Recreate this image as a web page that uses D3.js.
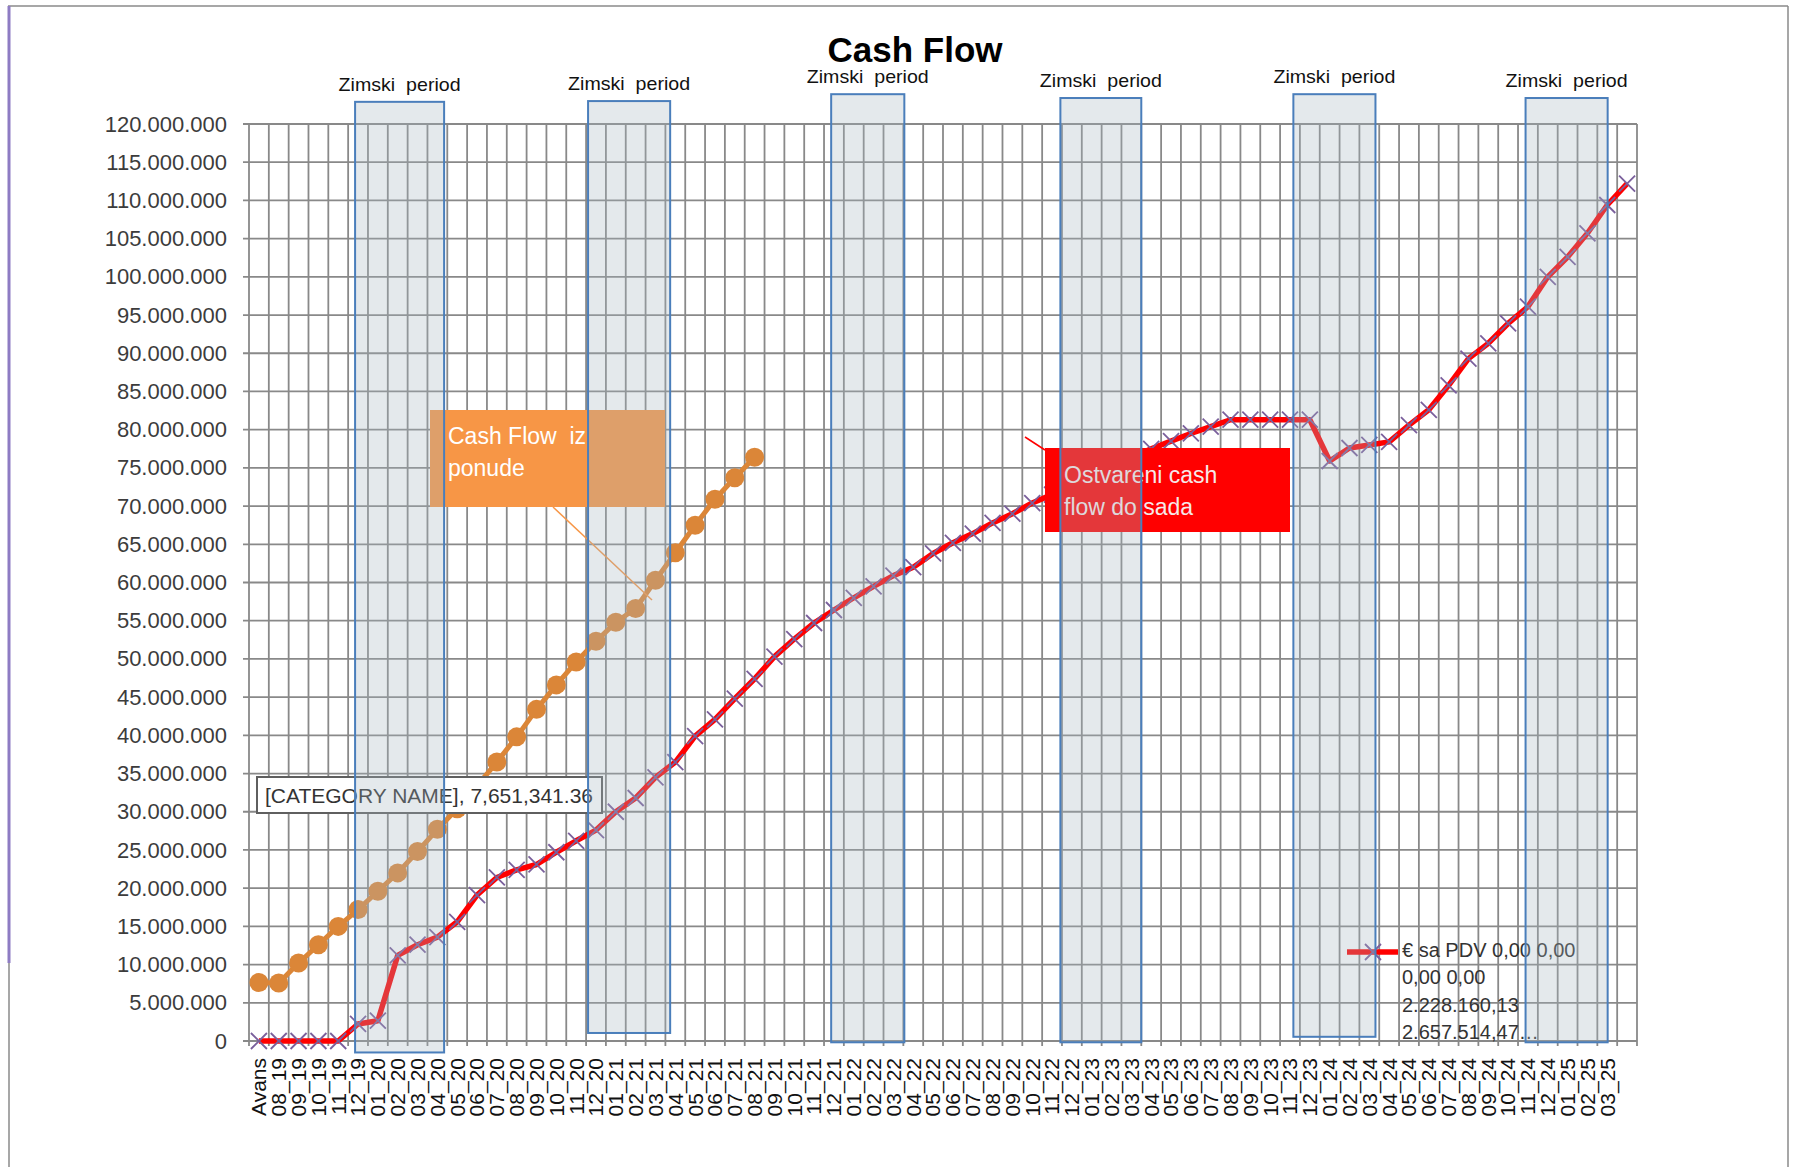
<!DOCTYPE html>
<html>
<head>
<meta charset="utf-8">
<script src="https://cdn.jsdelivr.net/npm/d3@7/dist/d3.min.js"></script>
<style>
  body { margin: 0; background: #fff; }
  svg { display: block; }
  text { font-family: 'Liberation Sans', Arial, sans-serif; }
</style>
</head>
<body>
<div id="chart"></div>
<script>
// Categories (last slot has no label but still carries a red point)
const categories = [
  'Avans', '08_19', '09_19', '10_19', '11_19', '12_19',
  '01_20', '02_20', '03_20', '04_20', '05_20', '06_20', '07_20', '08_20', '09_20', '10_20', '11_20', '12_20',
  '01_21', '02_21', '03_21', '04_21', '05_21', '06_21', '07_21', '08_21', '09_21', '10_21', '11_21', '12_21',
  '01_22', '02_22', '03_22', '04_22', '05_22', '06_22', '07_22', '08_22', '09_22', '10_22', '11_22', '12_22',
  '01_23', '02_23', '03_23', '04_23', '05_23', '06_23', '07_23', '08_23', '09_23', '10_23', '11_23', '12_23',
  '01_24', '02_24', '03_24', '04_24', '05_24', '06_24', '07_24', '08_24', '09_24', '10_24', '11_24', '12_24',
  '01_25', '02_25', '03_25', ''
];

// Cash Flow iz ponude (offer), EUR
const offerValues = [
  7651341.36, 7600000, 10200000, 12600000, 15000000, 17200000, 19600000, 22000000, 24800000, 27700000,
  30400000, 33400000, 36500000, 39800000, 43400000, 46600000, 49600000, 52300000, 54800000, 56600000,
  60300000, 63900000, 67500000, 70900000, 73700000, 76400000
];

// € sa PDV (realised cash flow), EUR
const actualValues = [
  0, 0, 0, 0, 0, 2228160.13, 2657514.47, 11200000, 12600000, 13600000,
  15600000, 19100000, 21400000, 22400000, 23100000, 24700000, 26200000, 27600000, 30000000, 31800000,
  34500000, 36500000, 39900000, 42100000, 44800000, 47400000, 50300000, 52600000, 54700000, 56400000,
  58000000, 59500000, 60900000, 62000000, 63800000, 65200000, 66400000, 67800000, 69000000, 70400000,
  71500000, 72600000, 73800000, 75100000, 76300000, 77500000, 78500000, 79500000, 80400000, 81300000,
  81300000, 81300000, 81300000, 81300000, 75900000, 77600000, 78000000, 78400000, 80600000, 82600000,
  85800000, 89300000, 91300000, 93900000, 96100000, 100000000, 102600000, 105700000, 109400000, 112200000
];

const yTicks = [
  0, 5000000, 10000000, 15000000, 20000000, 25000000, 30000000, 35000000, 40000000,
  45000000, 50000000, 55000000, 60000000, 65000000, 70000000, 75000000, 80000000,
  85000000, 90000000, 95000000, 100000000, 105000000, 110000000, 115000000, 120000000
];

// Winter periods, in category-index units (x) and EUR (y)
const winterFrom = [5.35, 17.1, 29.36, 40.92, 52.67, 64.38];
const winterTo = [9.84, 21.24, 33.05, 45.0, 56.81, 68.52];
const winterTop = [122900000, 123000000, 123900000, 123400000, 123900000, 123400000];
const winterBottom = [-1500000, 1050000, -170000, -170000, 550000, -170000];
const winterLabel = 'Zimski  period';

const legendLines = ['€ sa PDV 0,00 0,00', '0,00 0,00', '2.228.160,13', '2.657.514,47…'];

const W = 1794, H = 1167;
const plot = { left: 249, right: 1637, top: 124, bottom: 1041 };

const locale = d3.formatLocale({ decimal: ',', thousands: '.', grouping: [3], currency: ['', '€'] });
const fmt = locale.format(',d');

const svg = d3.select('#chart')
  .append('svg')
  .attr('width', W)
  .attr('height', H);

// Frame of the embedded page
svg.append('line').attr('x1', 8).attr('x2', 1788).attr('y1', 6).attr('y2', 6)
  .attr('stroke', '#8a8a8a').attr('stroke-width', 1.5);
svg.append('line').attr('x1', 1788).attr('x2', 1788).attr('y1', 6).attr('y2', H)
  .attr('stroke', '#8a8a8a').attr('stroke-width', 1.5);
svg.append('line').attr('x1', 9).attr('x2', 9).attr('y1', 6).attr('y2', 963)
  .attr('stroke', '#8e7cc3').attr('stroke-width', 3);
svg.append('line').attr('x1', 9).attr('x2', 9).attr('y1', 963).attr('y2', H)
  .attr('stroke', '#8a8a8a').attr('stroke-width', 1.5);

// Scales
const x = d3.scaleBand()
  .domain(categories)
  .range([plot.left, plot.right])
  .padding(0);

const xIndex = d3.scaleLinear()
  .domain([0, categories.length])
  .range([plot.left, plot.right]);

const y = d3.scaleLinear()
  .domain([0, 120000000])
  .range([plot.bottom, plot.top]);

const cx = function (i) { return x(categories[i]) + x.bandwidth() / 2; };

// Grid
const grid = svg.append('g').attr('stroke', '#898989').attr('stroke-width', 1.8);
grid.selectAll('line.h')
  .data(yTicks)
  .enter()
  .append('line')
  .attr('class', 'h')
  .attr('x1', plot.left - 6)
  .attr('x2', plot.right)
  .attr('y1', function (d) { return y(d); })
  .attr('y2', function (d) { return y(d); });

grid.selectAll('line.v')
  .data(d3.range(categories.length + 1))
  .enter()
  .append('line')
  .attr('class', 'v')
  .attr('x1', function (d) { return xIndex(d); })
  .attr('x2', function (d) { return xIndex(d); })
  .attr('y1', plot.top)
  .attr('y2', plot.bottom + 5);

// Y axis labels
const axisY = d3.axisLeft(y)
  .tickValues(yTicks)
  .tickFormat(function (d) { return fmt(d); })
  .tickSize(0)
  .tickPadding(22);

const gy = svg.append('g')
  .attr('transform', 'translate(' + plot.left + ',0)')
  .call(axisY);
gy.select('.domain').remove();
gy.selectAll('text')
  .attr('font-size', '22px')
  .attr('font-family', "'Liberation Sans', Arial, sans-serif")
  .attr('fill', '#3c3c3c');

// X axis labels
svg.append('g')
  .selectAll('text')
  .data(categories.filter(function (c) { return c !== ''; }))
  .enter()
  .append('text')
  .attr('transform', function (d) {
    return 'translate(' + (x(d) + x.bandwidth() / 2) + ',' + 1058 + ') rotate(-90)';
  })
  .attr('dy', '0.35em')
  .attr('text-anchor', 'end')
  .attr('font-size', '21px')
  .attr('fill', '#111')
  .text(function (d) { return d; });

// Offer line
const line = d3.line()
  .x(function (d, i) { return cx(i); })
  .y(function (d) { return y(d); });

svg.append('path')
  .datum(offerValues)
  .attr('d', line)
  .attr('fill', 'none')
  .attr('stroke', '#db8638')
  .attr('stroke-width', 5)
  .attr('stroke-linejoin', 'round');

svg.append('g')
  .selectAll('circle')
  .data(offerValues)
  .enter()
  .append('circle')
  .attr('cx', function (d, i) { return cx(i); })
  .attr('cy', function (d) { return y(d); })
  .attr('r', 9.5)
  .attr('fill', '#db8638');

// Actual line
svg.append('path')
  .datum(actualValues)
  .attr('d', line)
  .attr('fill', 'none')
  .attr('stroke', '#ff0000')
  .attr('stroke-width', 5.5)
  .attr('stroke-linejoin', 'round');

svg.append('g')
  .selectAll('path')
  .data(actualValues)
  .enter()
  .append('path')
  .attr('transform', function (d, i) { return 'translate(' + cx(i) + ',' + y(d) + ')'; })
  .attr('d', 'M-8,-8L8,8M-8,8L8,-8')
  .attr('stroke', '#7a5f9c')
  .attr('stroke-width', 1.8)
  .attr('fill', 'none');

// Legend
const legend = svg.append('g');
legend.append('line')
  .attr('x1', 1347).attr('x2', 1398).attr('y1', 952).attr('y2', 952)
  .attr('stroke', '#ff0000').attr('stroke-width', 5.5);
legend.append('path')
  .attr('transform', 'translate(1373,952)')
  .attr('d', 'M-8,-8L8,8M-8,8L8,-8')
  .attr('stroke', '#7a5f9c').attr('stroke-width', 1.8);
legend.selectAll('text')
  .data(legendLines)
  .enter()
  .append('text')
  .attr('x', 1402)
  .attr('y', function (d, i) { return 957 + i * 27.3; })
  .attr('font-size', '20px')
  .attr('fill', '#333')
  .text(function (d) { return d; });

// Data label of the first offer point
svg.append('rect')
  .attr('x', 257).attr('y', 777).attr('width', 345).attr('height', 36)
  .attr('fill', '#fff').attr('stroke', '#5f5f5f').attr('stroke-width', 2);
svg.append('text')
  .attr('x', 265).attr('y', 803)
  .attr('font-size', '21px')
  .attr('fill', '#333')
  .text('[CATEGORY NAME], ' + d3.format(',.2f')(offerValues[0]));

// Callouts
svg.append('line')
  .attr('x1', 553).attr('y1', 507).attr('x2', 652).attr('y2', 600)
  .attr('stroke', '#f79646').attr('stroke-width', 1.5);
svg.append('rect')
  .attr('x', 430).attr('y', 410).attr('width', 235).attr('height', 97)
  .attr('fill', '#f79646');
svg.append('text')
  .attr('x', 448).attr('y', 444)
  .attr('font-size', '23px').attr('fill', '#fff')
  .style('white-space', 'pre')
  .text('Cash Flow  iz');
svg.append('text')
  .attr('x', 448).attr('y', 476)
  .attr('font-size', '23px').attr('fill', '#fff')
  .text('ponude');

svg.append('line')
  .attr('x1', 1025).attr('y1', 437).attr('x2', 1045).attr('y2', 450)
  .attr('stroke', '#ff0000').attr('stroke-width', 1.5);
svg.append('rect')
  .attr('x', 1045).attr('y', 448).attr('width', 245).attr('height', 84)
  .attr('fill', '#ff0000');
svg.append('text')
  .attr('x', 1064).attr('y', 483)
  .attr('font-size', '23px').attr('fill', '#f6e8e8')
  .text('Ostvareni cash');
svg.append('text')
  .attr('x', 1064).attr('y', 515)
  .attr('font-size', '23px').attr('fill', '#f6e8e8')
  .text('flow do sada');

// Winter period overlays
const winters = winterFrom.map(function (f, i) {
  return { from: f, to: winterTo[i], top: winterTop[i], bottom: winterBottom[i] };
});

svg.append('g')
  .selectAll('rect')
  .data(winters)
  .enter()
  .append('rect')
  .attr('x', function (d) { return xIndex(d.from); })
  .attr('y', function (d) { return y(d.top); })
  .attr('width', function (d) { return xIndex(d.to) - xIndex(d.from); })
  .attr('height', function (d) { return y(d.bottom) - y(d.top); })
  .attr('fill', 'rgba(165,182,192,0.3)')
  .attr('stroke', '#4a7ebb')
  .attr('stroke-width', 2);

svg.append('g')
  .selectAll('text')
  .data(winters)
  .enter()
  .append('text')
  .attr('x', function (d) { return (xIndex(d.from) + xIndex(d.to)) / 2; })
  .attr('y', function (d) { return y(d.top) - 11; })
  .attr('text-anchor', 'middle')
  .attr('font-size', '19px')
  .attr('textLength', 122)
  .attr('lengthAdjust', 'spacingAndGlyphs')
  .attr('fill', '#111')
  .style('white-space', 'pre')
  .text(winterLabel);

// Title
svg.append('text')
  .attr('x', 915)
  .attr('y', 62)
  .attr('text-anchor', 'middle')
  .attr('font-size', '35px')
  .attr('font-weight', 'bold')
  .attr('fill', '#000')
  .text('Cash Flow');
</script>
</body>
</html>
